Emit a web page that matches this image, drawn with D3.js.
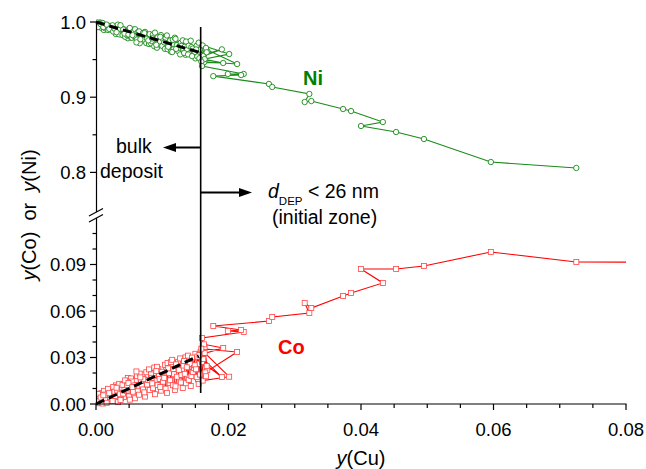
<!DOCTYPE html>
<html><head><meta charset="utf-8">
<script src="https://cdn.jsdelivr.net/npm/d3@7"></script>
<style>
body{margin:0;background:#fff;}
text{font-family:"Liberation Sans",Arial,Helvetica,sans-serif;}
</style></head>
<body><svg id="c" width="646" height="469"></svg>
<script>
// y(Cu) values (shared by both series, in measurement order)
const cuValues = [
0.0168,0.0164,0.0160,0.0156,0.0154,0.0150,0.0147,0.0142,0.0138,0.0135,
0.0130,0.0126,0.0123,0.0118,0.0114,0.0111,0.0106,0.0102,0.0099,0.0094,
0.0090,0.0087,0.0082,0.0078,0.0075,0.0070,0.0064,0.0060,0.0057,0.0052,
0.0048,0.0045,0.0042,0.0039,0.0034,0.0030,0.0027,0.0024,0.0022,0.0019,
0.0017,0.0013,0.0008,0.0006,0.0001,
0.0002,0.0005,0.0004,0.0003,0.0009,0.0010,0.0012,0.0007,0.0015,0.0014,
0.0018,0.0011,0.0023,0.0021,0.0020,0.0026,0.0016,0.0029,0.0028,0.0032,
0.0025,0.0033,0.0035,0.0038,0.0036,0.0031,0.0041,0.0040,0.0044,0.0037,
0.0047,0.0046,0.0050,0.0043,0.0051,0.0053,0.0054,0.0056,0.0049,0.0058,
0.0059,0.0062,0.0055,0.0063,0.0065,0.0066,0.0068,0.0061,0.0069,0.0071,
0.0072,0.0074,0.0067,0.0076,0.0077,0.0080,0.0073,0.0081,0.0083,0.0084,
0.0086,0.0079,0.0088,0.0089,0.0092,0.0085,0.0093,0.0095,0.0096,0.0098,
0.0091,0.0100,0.0101,0.0104,0.0105,0.0097,0.0107,0.0108,0.0110,0.0103,
0.0112,0.0113,0.0116,0.0109,0.0117,0.0119,0.0120,0.0122,0.0115,0.0124,
0.0125,0.0128,0.0121,0.0129,0.0131,0.0132,0.0134,0.0127,0.0136,0.0137,
0.0140,0.0141,0.0133,0.0143,0.0144,0.0146,0.0139,0.0148,0.0149,0.0152,
0.0145,0.0153,0.0155,0.0157,0.0158,0.0151,0.0160,0.0190,0.0162,0.0163,
0.0192,0.0156,0.0161,0.0201,0.0164,0.0165,0.0213,0.0159,0.0166,0.0167,
0.0160,0.0223,0.0199,0.0219,0.0177,0.0261,0.0266,0.0322,0.0315,0.0325,
0.0373,0.0385,0.0433,0.0400,0.0453,0.0495,0.0596,0.0725,0.0900];
// y(Co)
const coValues = [
0.0220,0.0368,0.0195,0.0260,0.0159,0.0324,0.0217,0.0259,0.0172,0.0301,
0.0223,0.0150,0.0240,0.0192,0.0250,0.0136,0.0221,0.0183,0.0125,0.0225,
0.0151,0.0198,0.0113,0.0180,0.0138,0.0190,0.0104,0.0156,0.0055,0.0128,
0.0168,0.0102,0.0045,0.0097,0.0074,0.0120,0.0062,0.0093,0.0022,0.0053,
0.0080,0.0037,0.0070,0.0010,0.0042,
0.0005,0.0030,0.0020,0.0065,0.0018,0.0003,0.0085,0.0042,0.0025,0.0061,
0.0098,0.0056,0.0034,0.0044,0.0072,0.0110,0.0008,0.0051,0.0080,0.0088,
0.0019,0.0012,0.0130,0.0038,0.0063,0.0105,0.0067,0.0124,0.0152,0.0026,
0.0118,0.0084,0.0049,0.0091,0.0028,0.0165,0.0145,0.0079,0.0136,0.0120,
0.0037,0.0180,0.0109,0.0082,0.0060,0.0196,0.0148,0.0210,0.0117,0.0094,
0.0160,0.0048,0.0172,0.0205,0.0126,0.0223,0.0075,0.0090,0.0191,0.0169,
0.0102,0.0155,0.0235,0.0063,0.0240,0.0133,0.0122,0.0184,0.0161,0.0086,
0.0212,0.0208,0.0144,0.0253,0.0099,0.0110,0.0072,0.0264,0.0199,0.0168,
0.0153,0.0270,0.0121,0.0230,0.0226,0.0090,0.0114,0.0176,0.0285,0.0272,
0.0218,0.0139,0.0256,0.0188,0.0103,0.0248,0.0195,0.0294,0.0134,0.0237,
0.0156,0.0289,0.0278,0.0116,0.0180,0.0207,0.0312,0.0233,0.0250,0.0173,
0.0299,0.0306,0.0130,0.0190,0.0335,0.0224,0.0271,0.0174,0.0290,0.0385,
0.0361,0.0316,0.0151,0.0176,0.0330,0.0204,0.0335,0.0357,0.0179,0.0246,
0.0426,0.0465,0.0471,0.0477,0.0503,0.0535,0.0561,0.0587,0.0652,0.0619,
0.0697,0.0716,0.0781,0.0871,0.0871,0.0890,0.0981,0.0916,0.0915];
// y(Ni)
const niValues = [
0.9612,0.9478,0.9635,0.9584,0.9697,0.9516,0.9636,0.9619,0.9680,0.9564,
0.9657,0.9714,0.9637,0.9700,0.9616,0.9753,0.9683,0.9705,0.9776,0.9691,
0.9749,0.9715,0.9825,0.9732,0.9787,0.9750,0.9822,0.9784,0.9898,0.9810,
0.9784,0.9863,0.9903,0.9864,0.9912,0.9840,0.9911,0.9893,0.9946,0.9928,
0.9913,0.9940,0.9922,0.9994,0.9957,
0.9993,0.9975,0.9966,0.9932,0.9983,0.9987,0.9893,0.9971,0.9960,0.9915,
0.9894,0.9933,0.9923,0.9945,0.9908,0.9874,0.9966,0.9920,0.9912,0.9870,
0.9956,0.9965,0.9835,0.9904,0.9911,0.9864,0.9902,0.9826,0.9804,0.9957,
0.9825,0.9870,0.9911,0.9846,0.9921,0.9792,0.9791,0.9865,0.9835,0.9812,
0.9904,0.9768,0.9826,0.9865,0.9875,0.9718,0.9794,0.9729,0.9804,0.9855,
0.9768,0.9868,0.9771,0.9719,0.9777,0.9707,0.9852,0.9839,0.9716,0.9747,
0.9832,0.9756,0.9677,0.9858,0.9658,0.9782,0.9795,0.9701,0.9743,0.9826,
0.9697,0.9682,0.9775,0.9643,0.9786,0.9803,0.9821,0.9638,0.9681,0.9729,
0.9755,0.9607,0.9763,0.9671,0.9637,0.9791,0.9776,0.9692,0.9600,0.9614,
0.9657,0.9723,0.9643,0.9683,0.9756,0.9630,0.9671,0.9569,0.9740,0.9626,
0.9684,0.9580,0.9589,0.9751,0.9666,0.9647,0.9569,0.9609,0.9601,0.9685,
0.9546,0.9541,0.9725,0.9633,0.9507,0.9635,0.9559,0.9636,0.9548,0.9462,
0.9455,0.9518,0.9688,0.9574,0.9506,0.9641,0.9441,0.9474,0.9655,0.9597,
0.9414,0.9309,0.9309,0.9295,0.9280,0.9176,0.9136,0.9043,0.8936,0.8949,
0.8843,0.8816,0.8670,0.8617,0.8537,0.8444,0.8138,0.8059,null];

// dashed linear trends in the bulk deposit
const fitCu = [0, 0.0155];
const fitNi = [1.0, 0.960];
const fitCo = [0, 0.031];
const boundaryCu = 0.0158; // d_DEP = 26 nm

const xTicksMajor = [0, 0.02, 0.04, 0.06, 0.08];
const xTicksMinor = [0.005,0.01,0.015,0.025,0.03,0.035,0.045,0.05,0.055,0.065,0.07,0.075];
const yUpTicksMajor = [1.0, 0.9, 0.8];
const yUpTicksMinor = [0.95, 0.85];
const yLoTicksMajor = [0, 0.03, 0.06, 0.09];
const yLoTicksMinor = [0.01,0.02,0.04,0.05,0.07,0.08,0.10,0.11];

const svg = d3.select("#c");
const x = d3.scaleLinear().domain([0, 0.08]).range([96, 626]);
const yUp = d3.scaleLinear().domain([0.75, 1.0]).range([210, 22]);
const yLo = d3.scaleLinear().domain([0, 0.115]).range([404, 225.75]);

const GREEN = "#1a8a1a", RED = "#ff0000";
const data = cuValues.map((c, i) => ({cu: c, co: coValues[i], ni: niValues[i]}));

svg.append("defs").append("clipPath").attr("id","clip")
  .append("rect").attr("x",96).attr("y",0).attr("width",530).attr("height",469);

const plot = svg.append("g").attr("clip-path","url(#clip)");

// lines
plot.append("path").datum(data.filter(d => d.ni != null))
  .attr("fill","none").attr("stroke",GREEN).attr("stroke-width",1.1)
  .attr("d", d3.line().x(d => x(d.cu)).y(d => yUp(d.ni)));
plot.append("path").datum(data)
  .attr("fill","none").attr("stroke",RED).attr("stroke-width",1.1)
  .attr("d", d3.line().x(d => x(d.cu)).y(d => yLo(d.co)));

// markers
const sq = 5;
plot.selectAll("rect.co").data(data.filter(d => d.cu <= 0.08)).join("rect")
  .attr("x", d => x(d.cu) - sq/2).attr("y", d => yLo(d.co) - sq/2)
  .attr("width",sq).attr("height",sq)
  .attr("fill","#fff").attr("stroke","#ff4545").attr("stroke-width",0.8);
plot.selectAll("circle.ni").data(data.filter(d => d.ni != null)).join("circle")
  .attr("cx", d => x(d.cu)).attr("cy", d => yUp(d.ni)).attr("r",2.7)
  .attr("fill","#fff").attr("stroke",GREEN).attr("stroke-width",0.9);

// dashed trends
const fit = fitCu.map((c,i) => ({cu:c, ni:fitNi[i], co:fitCo[i]}));
svg.append("path").datum(fit).attr("fill","none").attr("stroke","#000")
  .attr("stroke-width",3).attr("stroke-dasharray","9,5")
  .attr("d", d3.line().x(d => x(d.cu)).y(d => yUp(d.ni)));
svg.append("path").datum(fit).attr("fill","none").attr("stroke","#000")
  .attr("stroke-width",3).attr("stroke-dasharray","9,5")
  .attr("d", d3.line().x(d => x(d.cu)).y(d => yLo(d.co)));

// boundary line
const bx = x(boundaryCu);
svg.append("line").attr("x1",bx).attr("x2",bx).attr("y1",27).attr("y2",393)
  .attr("stroke","#000").attr("stroke-width",1.6);

// arrows
function arrow(x1, x2, y) {
  const dir = Math.sign(x2 - x1);
  svg.append("line").attr("x1",x1).attr("x2",x2 - dir*10).attr("y1",y).attr("y2",y)
    .attr("stroke","#000").attr("stroke-width",2);
  svg.append("path").attr("d",`M${x2},${y} L${x2 - dir*13},${y-4.5} L${x2 - dir*13},${y+4.5} Z`)
    .attr("fill","#000");
}
arrow(bx, 163, 147.5);
arrow(bx, 252, 192.5);

// axes
const ax = svg.append("g").attr("stroke","#000").attr("stroke-width",1.2);
ax.append("line").attr("x1",96).attr("x2",626.5).attr("y1",404).attr("y2",404);
ax.append("line").attr("x1",96.5).attr("x2",96.5).attr("y1",21.5).attr("y2",212);
ax.append("line").attr("x1",96.5).attr("x2",96.5).attr("y1",218).attr("y2",404.5);
// break marks
ax.append("line").attr("x1",89).attr("x2",103).attr("y1",216).attr("y2",208.5);
ax.append("line").attr("x1",89).attr("x2",103).attr("y1",222).attr("y2",214.5);

xTicksMajor.forEach(v => ax.append("line").attr("x1",x(v)).attr("x2",x(v)).attr("y1",404).attr("y2",410));
xTicksMinor.forEach(v => ax.append("line").attr("x1",x(v)).attr("x2",x(v)).attr("y1",404).attr("y2",408));
yUpTicksMajor.forEach(v => ax.append("line").attr("x1",90).attr("x2",96.5).attr("y1",yUp(v)).attr("y2",yUp(v)));
yUpTicksMinor.forEach(v => ax.append("line").attr("x1",92.5).attr("x2",96.5).attr("y1",yUp(v)).attr("y2",yUp(v)));
yLoTicksMajor.forEach(v => ax.append("line").attr("x1",90).attr("x2",96.5).attr("y1",yLo(v)).attr("y2",yLo(v)));
yLoTicksMinor.forEach(v => ax.append("line").attr("x1",92.5).attr("x2",96.5).attr("y1",yLo(v)).attr("y2",yLo(v)));

const tf = 18.5;
svg.selectAll("text.xt").data(xTicksMajor).join("text")
  .attr("x", d => x(d)).attr("y", 436).attr("text-anchor","middle")
  .attr("font-size",tf).text(d => d3.format(".2f")(d));
svg.selectAll("text.yu").data(yUpTicksMajor).join("text")
  .attr("x", 86).attr("y", d => yUp(d) + 6.5).attr("text-anchor","end")
  .attr("font-size",tf).text(d => d3.format(".1f")(d));
svg.selectAll("text.yl").data(yLoTicksMajor).join("text")
  .attr("x", 86).attr("y", d => yLo(d) + 6.5).attr("text-anchor","end")
  .attr("font-size",tf).text(d => d3.format(".2f")(d));

// axis titles
const xt = svg.append("text").attr("x",361).attr("y",465).attr("text-anchor","middle").attr("font-size",20);
xt.append("tspan").attr("font-style","italic").text("y");
xt.append("tspan").text("(Cu)");
const yt = svg.append("text").attr("transform","translate(36,215) rotate(-90)")
  .attr("text-anchor","middle").attr("font-size",20);
yt.append("tspan").attr("font-style","italic").text("y");
yt.append("tspan").text("(Co)\u00a0\u00a0or\u00a0\u00a0");
yt.append("tspan").attr("font-style","italic").text("y");
yt.append("tspan").text("(Ni)");

// annotations
svg.append("text").attr("x",116).attr("y",153).attr("font-size",19.5).text("bulk");
svg.append("text").attr("x",100).attr("y",178).attr("font-size",19.5).text("deposit");
const dt = svg.append("text").attr("x",268).attr("y",198).attr("font-size",19.5);
dt.append("tspan").attr("font-style","italic").text("d");
dt.append("tspan").attr("font-size",11.5).attr("dy",6.5).text("DEP");
dt.append("tspan").attr("dy",-6.5).text("\u00a0< 26 nm");
svg.append("text").attr("x",272).attr("y",224).attr("font-size",19.5).text("(initial zone)");

svg.append("text").attr("x",303).attr("y",85).attr("font-size",20).attr("font-weight","bold")
  .attr("fill","#008000").text("Ni");
svg.append("text").attr("x",278).attr("y",354).attr("font-size",20).attr("font-weight","bold")
  .attr("fill",RED).text("Co");
</script></body></html>
